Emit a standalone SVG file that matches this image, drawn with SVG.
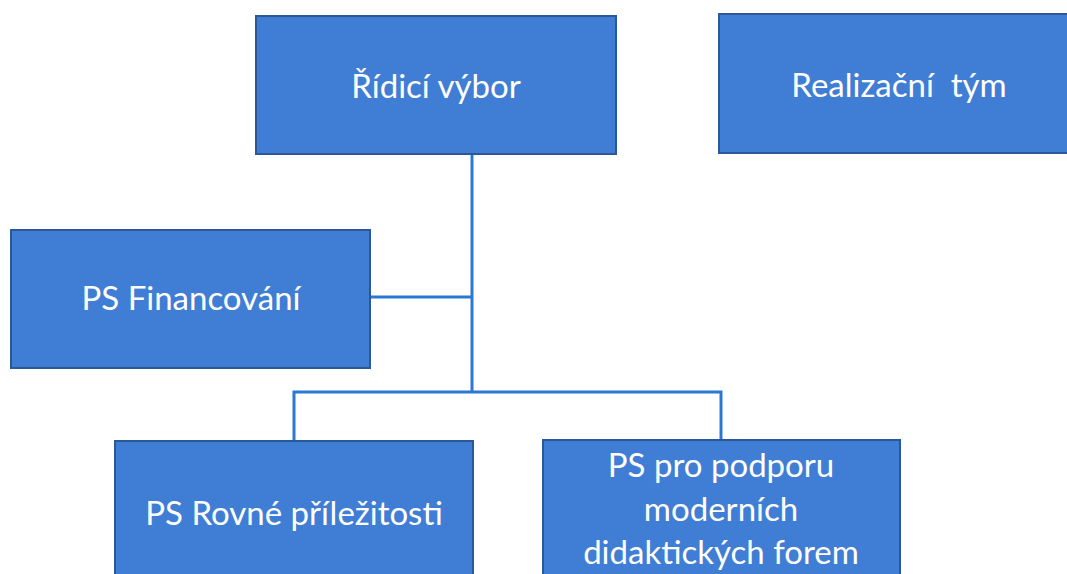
<svg xmlns="http://www.w3.org/2000/svg" width="1067" height="574" viewBox="0 0 1067 574">
<style>
.box{fill:#3f7ed4;stroke:#2b5896;stroke-width:2}
.t{fill:#ffffff;font-family:Lato,"Open Sans","Liberation Sans",sans-serif;font-size:33px;text-anchor:middle;white-space:pre}
.c{fill:none;stroke:#2a78d6;stroke-width:3}
</style>
<rect width="1067" height="574" fill="#ffffff"/>
<g id="connectors">
<path class="c" d="M472,154 V392"/>
<path class="c" d="M370,297 H472"/>
<path class="c" d="M294,441 V392 H721 V440"/>
</g>
<g id="ridici">
<rect class="box" x="256" y="16" width="360" height="138"/>
<text class="t" x="436" y="98">Řídicí výbor</text>
</g>
<g id="realizacni">
<rect class="box" x="719" y="14" width="352" height="139"/>
<text class="t" x="899" y="97" xml:space="preserve">Realizační  tým</text>
</g>
<g id="financovani">
<rect class="box" x="11" y="230" width="359" height="138"/>
<text class="t" x="191" y="310">PS Financování</text>
</g>
<g id="rovne">
<rect class="box" x="115" y="441" width="358" height="140"/>
<text class="t" x="294" y="525">PS Rovné příležitosti</text>
</g>
<g id="podpora">
<rect class="box" x="543" y="440" width="357" height="141"/>
<text class="t" x="721" y="477">PS pro podporu</text>
<text class="t" x="721" y="521">moderních</text>
<text class="t" x="721" y="564">didaktických forem</text>
</g>
</svg>
